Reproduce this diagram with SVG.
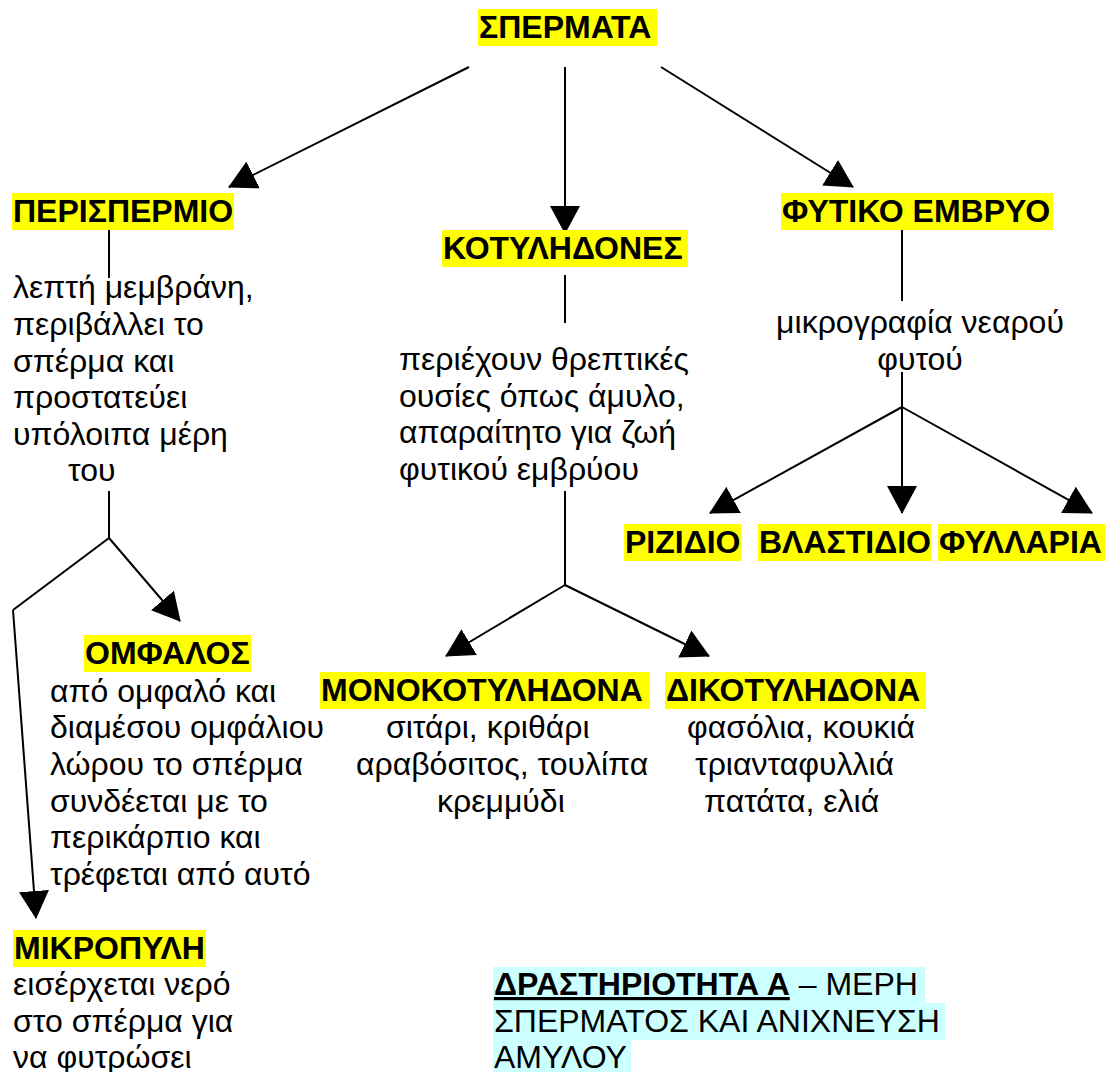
<svg xmlns="http://www.w3.org/2000/svg" width="1109" height="1072" viewBox="0 0 1109 1072">
<style>
.hl{fill:#ffff00}
.cy{fill:#ccffff}
text{font-family:"Liberation Sans",Arial,sans-serif;font-size:32px;fill:#000}
.b{font-weight:bold}
.c line{stroke:#000;stroke-width:2}
</style>
<defs>
<marker id="ah" viewBox="0 0 28 30" markerWidth="28" markerHeight="30" refX="27" refY="15" orient="auto" markerUnits="userSpaceOnUse">
<path d="M0,0 L28,15 L0,30 Z" fill="#000"/>
</marker>
</defs>
<rect width="1109" height="1072" fill="#fff"/>
<g class="c" id="connectors">
<line x1="469" y1="67" x2="229" y2="187" marker-end="url(#ah)"/>
<line x1="565" y1="67" x2="565" y2="233" marker-end="url(#ah)"/>
<line x1="661" y1="67" x2="853" y2="187" marker-end="url(#ah)"/>
<line x1="109" y1="230" x2="109" y2="278"/>
<line x1="109" y1="491" x2="109" y2="538"/>
<line x1="109" y1="538" x2="13" y2="610"/>
<line x1="109" y1="538" x2="180" y2="621" marker-end="url(#ah)"/>
<line x1="13" y1="610" x2="36" y2="918" marker-end="url(#ah)"/>
<line x1="565" y1="275" x2="565" y2="323"/>
<line x1="565" y1="491" x2="565" y2="585"/>
<line x1="565" y1="585" x2="446" y2="656" marker-end="url(#ah)"/>
<line x1="565" y1="585" x2="709" y2="656" marker-end="url(#ah)"/>
<line x1="902" y1="230" x2="902" y2="301"/>
<line x1="902" y1="372" x2="902" y2="407"/>
<line x1="902" y1="407" x2="710" y2="513" marker-end="url(#ah)"/>
<line x1="902" y1="407" x2="902" y2="513" marker-end="url(#ah)"/>
<line x1="902" y1="407" x2="1092" y2="513" marker-end="url(#ah)"/>
</g>
<g id="spermata">
<rect class="hl" x="478" y="9" width="179" height="37"/>
<text class="b" x="479" y="38">ΣΠΕΡΜΑΤΑ</text>
</g>
<g id="perispermio">
<rect class="hl" x="12" y="193" width="222" height="37"/>
<text class="b" x="13" y="222">ΠΕΡΙΣΠΕΡΜΙΟ</text>
<text x="13" y="298">λεπτή μεμβράνη,</text>
<text x="13" y="335">περιβάλλει το</text>
<text x="13" y="372">σπέρμα και</text>
<text x="13" y="408">προστατεύει</text>
<text x="13" y="445">υπόλοιπα μέρη</text>
<text x="68" y="481">του</text>
</g>
<g id="kotylhdones">
<rect class="hl" x="442" y="230" width="246" height="37"/>
<text class="b" x="443" y="259">ΚΟΤΥΛΗΔΟΝΕΣ</text>
<text x="399" y="370">περιέχουν θρεπτικές</text>
<text x="399" y="407">ουσίες όπως άμυλο,</text>
<text x="399" y="443">απαραίτητο για ζωή</text>
<text x="399" y="480">φυτικού εμβρύου</text>
</g>
<g id="fytiko-embryo">
<rect class="hl" x="781" y="193" width="272" height="37"/>
<text class="b" x="782" y="222">ΦΥΤΙΚΟ ΕΜΒΡΥΟ</text>
<text x="920" y="333" text-anchor="middle">μικρογραφία νεαρού</text>
<text x="920" y="370" text-anchor="middle">φυτού</text>
</g>
<g id="rizidio">
<rect class="hl" x="624" y="524" width="117" height="37"/>
<text class="b" x="625" y="553">ΡΙΖΙΔΙΟ</text>
</g>
<g id="blastidio">
<rect class="hl" x="758" y="524" width="173" height="37"/>
<text class="b" x="759" y="553">ΒΛΑΣΤΙΔΙΟ</text>
</g>
<g id="fyllaria">
<rect class="hl" x="938" y="524" width="167" height="37"/>
<text class="b" x="939" y="553">ΦΥΛΛΑΡΙΑ</text>
</g>
<g id="omfalos">
<rect class="hl" x="84" y="635" width="167" height="37"/>
<text class="b" x="85" y="664">ΟΜΦΑΛΟΣ</text>
<text x="50" y="702">από ομφαλό και</text>
<text x="50" y="738">διαμέσου ομφάλιου</text>
<text x="50" y="775">λώρου το σπέρμα</text>
<text x="50" y="812">συνδέεται με το</text>
<text x="50" y="848">περικάρπιο και</text>
<text x="50" y="885">τρέφεται από αυτό</text>
</g>
<g id="monokotylhdona">
<rect class="hl" x="320" y="672" width="330" height="37"/>
<text class="b" x="321" y="701">ΜΟΝΟΚΟΤΥΛΗΔΟΝΑ</text>
<text x="386" y="738">σιτάρι, κριθάρι</text>
<text x="356" y="775">αραβόσιτος, τουλίπα</text>
<text x="437" y="812">κρεμμύδι</text>
</g>
<g id="dikotylhdona">
<rect class="hl" x="665" y="672" width="261" height="37"/>
<text class="b" x="666" y="701">ΔΙΚΟΤΥΛΗΔΟΝΑ</text>
<text x="687" y="738">φασόλια, κουκιά</text>
<text x="695" y="775">τριανταφυλλιά</text>
<text x="704" y="812">πατάτα, ελιά</text>
</g>
<g id="mikropylh">
<rect class="hl" x="13" y="930" width="193" height="37"/>
<text class="b" x="14" y="959">ΜΙΚΡΟΠΥΛΗ</text>
<text x="13" y="995">εισέρχεται νερό</text>
<text x="13" y="1032">στο σπέρμα για</text>
<text x="13" y="1068">να φυτρώσει</text>
</g>
<g id="title">
<rect class="cy" x="493" y="967" width="432" height="36"/>
<rect class="cy" x="493" y="1003" width="452" height="37"/>
<rect class="cy" x="493" y="1040" width="138" height="32"/>
<text x="494" y="995"><tspan class="b" text-decoration="underline">ΔΡΑΣΤΗΡΙΟΤΗΤΑ Α</tspan> – ΜΕΡΗ</text>
<text x="494" y="1032">ΣΠΕΡΜΑΤΟΣ ΚΑΙ ΑΝΙΧΝΕΥΣΗ</text>
<text x="494" y="1068">ΑΜΥΛΟΥ</text>
</g>
</svg>
